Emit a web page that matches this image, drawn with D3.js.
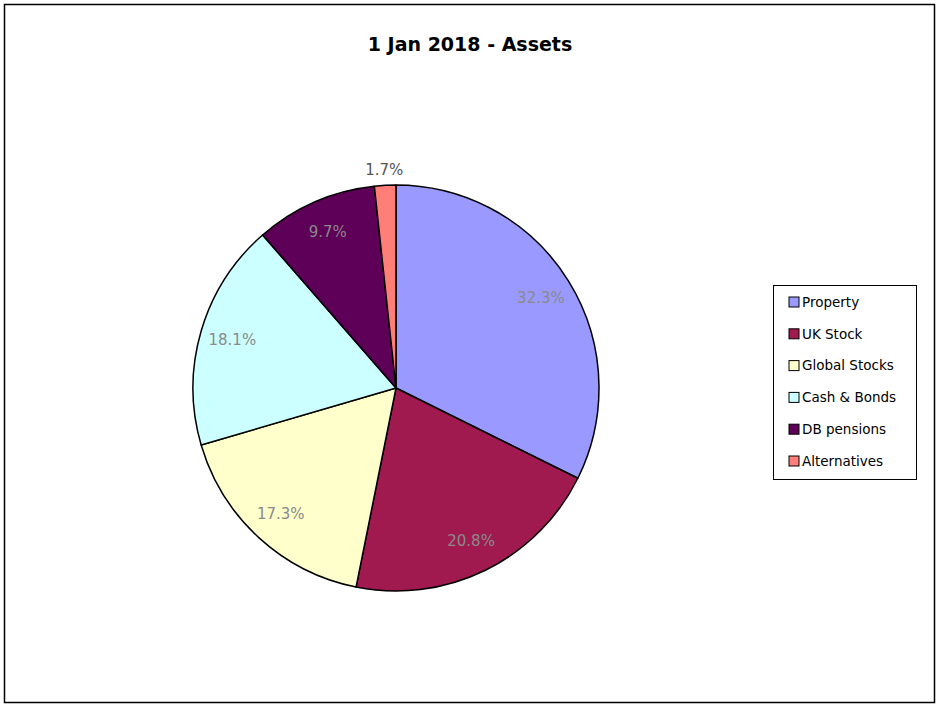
<!DOCTYPE html>
<html>
<head>
<meta charset="utf-8">
<script src="https://cdn.jsdelivr.net/npm/d3@7"></script>
<style>
  body { margin: 0; background: #fff; }
  text { font-family: "Century Gothic", "DejaVu Sans", sans-serif; }
</style>
</head>
<body>
<svg id="chart" width="938" height="707"></svg>
<script>
var categories = ["Property", "UK Stock", "Global Stocks", "Cash & Bonds", "DB pensions", "Alternatives"]
var values = [32.3, 20.8, 17.3, 18.1, 9.7, 1.7]
var colours = ["#9999FF", "#A01A50", "#FFFFCC", "#CCFFFF", "#5E0057", "#FF7F78"]
var title = "1 Jan 2018 - Assets"

var width = 938, height = 707
var cx = 396, cy = 388, radius = 203

var svg = d3.select("#chart")

// outer frame
svg.append("rect")
    .attr("x", 4.5).attr("y", 4.5)
    .attr("width", 930).attr("height", 698)
    .attr("fill", "#fff")
    .attr("stroke", "#000")
    .attr("stroke-width", 1.5)

svg.append("text")
    .attr("x", 470).attr("y", 51)
    .attr("text-anchor", "middle")
    .attr("font-size", 19)
    .attr("font-weight", "bold")
    .attr("fill", "#000")
    .text(title)

var data = categories.map((c, i) => ({ name: c, value: values[i], colour: colours[i] }))

var pie = d3.pie().sort(null).value(d => d.value)
var arcs = pie(data)

var arc = d3.arc().innerRadius(0).outerRadius(radius)
var labelArc = d3.arc().innerRadius(radius * 0.84).outerRadius(radius * 0.84)
var outsideArc = d3.arc().innerRadius(radius + 16).outerRadius(radius + 16)

var g = svg.append("g").attr("transform", "translate(" + cx + "," + cy + ")")

g.selectAll("path.slice")
    .data(arcs)
    .enter().append("path")
    .attr("class", "slice")
    .attr("d", arc)
    .attr("fill", d => d.data.colour)
    .attr("stroke", "#000")
    .attr("stroke-width", 1.5)
    .attr("stroke-linejoin", "round")

g.selectAll("text.label")
    .data(arcs)
    .enter().append("text")
    .attr("class", "label")
    .attr("transform", function (d) {
        // tiny slices get their label just outside the pie
        var p = d.data.value < 3 ? outsideArc.centroid(d) : labelArc.centroid(d)
        return "translate(" + p + ")"
    })
    .attr("text-anchor", "middle")
    .attr("dy", "0.35em")
    .attr("font-size", 15)
    .attr("fill", d => d.data.value < 3 ? "#555" : "#8a8a8a")
    .text(d => d.data.value.toFixed(1) + "%")

// legend
var legend = svg.append("g").attr("transform", "translate(773,285)")

legend.append("rect")
    .attr("x", 0.5).attr("y", 0.5)
    .attr("width", 143).attr("height", 194)
    .attr("fill", "#fff")
    .attr("stroke", "#000")
    .attr("stroke-width", 1)

var item = legend.selectAll("g.item")
    .data(data)
    .enter().append("g")
    .attr("class", "item")
    .attr("transform", (d, i) => "translate(0," + (17 + i * 31.8) + ")")

item.append("rect")
    .attr("x", 16).attr("y", -5)
    .attr("width", 10).attr("height", 10)
    .attr("fill", d => d.colour)
    .attr("stroke", "#000")
    .attr("stroke-width", 1)

item.append("text")
    .attr("x", 29).attr("y", 0)
    .attr("dy", "0.35em")
    .attr("font-size", 13.5)
    .attr("fill", "#000")
    .text(d => d.name)
</script>
</body>
</html>
